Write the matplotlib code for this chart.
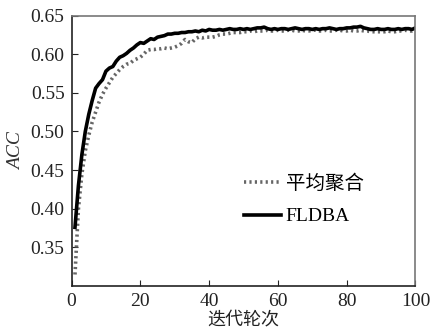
import matplotlib
matplotlib.use("Agg")
import matplotlib.pyplot as plt
import numpy as np

plt.rcParams['font.family'] = ['Liberation Serif', 'Noto Sans CJK SC']
plt.rcParams['mathtext.fontset'] = 'stix'

rounds = list(range(1, 101))

fldba = [0.376, 0.430, 0.470, 0.500, 0.522, 0.540, 0.556, 0.562, 0.567, 0.578,
         0.582, 0.584, 0.591, 0.596, 0.598, 0.601, 0.605, 0.608, 0.612, 0.615,
         0.614, 0.617, 0.620, 0.619, 0.622, 0.623, 0.624, 0.626, 0.626, 0.627,
         0.627, 0.628, 0.628, 0.629, 0.629, 0.630, 0.629, 0.631, 0.630, 0.632,
         0.631, 0.631, 0.632, 0.631, 0.632, 0.633, 0.632, 0.632, 0.633, 0.632,
         0.633, 0.632, 0.633, 0.634, 0.634, 0.635, 0.633, 0.632, 0.633, 0.632,
         0.633, 0.633, 0.632, 0.633, 0.634, 0.633, 0.632, 0.633, 0.633, 0.632,
         0.633, 0.632, 0.633, 0.633, 0.634, 0.633, 0.632, 0.633, 0.633, 0.634,
         0.634, 0.635, 0.635, 0.636, 0.634, 0.633, 0.632, 0.632, 0.633, 0.632,
         0.632, 0.633, 0.632, 0.632, 0.633, 0.632, 0.633, 0.633, 0.632, 0.634]

avg = [0.315, 0.400, 0.445, 0.475, 0.495, 0.512, 0.525, 0.538, 0.548, 0.556,
       0.563, 0.570, 0.575, 0.580, 0.584, 0.587, 0.588, 0.592, 0.594, 0.596,
       0.600, 0.605, 0.606, 0.606, 0.607, 0.607, 0.608, 0.607, 0.608, 0.609,
       0.611, 0.614, 0.619, 0.616, 0.615, 0.620, 0.622, 0.621, 0.622, 0.622,
       0.622, 0.623, 0.625, 0.626, 0.626, 0.627, 0.628, 0.628, 0.628, 0.629,
       0.629, 0.630, 0.629, 0.630, 0.630, 0.630, 0.631, 0.630, 0.630, 0.631,
       0.630, 0.630, 0.631, 0.631, 0.630, 0.630, 0.631, 0.630, 0.630, 0.631,
       0.631, 0.630, 0.630, 0.631, 0.630, 0.630, 0.631, 0.631, 0.630, 0.630,
       0.631, 0.630, 0.630, 0.631, 0.630, 0.630, 0.629, 0.629, 0.629, 0.629,
       0.629, 0.630, 0.629, 0.629, 0.630, 0.630, 0.631, 0.630, 0.630, 0.632]

labels = ['平均聚合', 'FLDBA']
xticks = [0, 20, 40, 60, 80, 100]
yticks = [0.35, 0.40, 0.45, 0.50, 0.55, 0.60, 0.65]

fig = plt.figure(figsize=(4.31, 3.30), dpi=100)
ax = fig.add_axes([0.166, 0.133, 0.798, 0.820])

ax.plot(rounds, avg, color='#666666', lw=2.6, ls=(0, (0.6, 0.9)), label=labels[0])
ax.plot(rounds, fldba, color='black', lw=2.6, label=labels[1])

ax.set_xlim(0, 100)
ax.set_ylim(0.30, 0.65)
ax.set_xticks(xticks)
ax.set_yticks(yticks)
ax.set_yticklabels([f'{v:.2f}' for v in yticks])
ax.tick_params(direction='in', length=4, labelsize=14, colors='#222222', pad=5)

for s in ['top', 'right']:
    ax.spines[s].set_color('#777777')
    ax.spines[s].set_linewidth(1.2)
for s in ['left', 'bottom']:
    ax.spines[s].set_color('#222222')
    ax.spines[s].set_linewidth(1.2)

ax.set_ylabel('ACC', fontsize=14, style='italic', color='#333333', labelpad=4)
ax.set_xlabel('迭代轮次', fontsize=13, color='#222222', labelpad=1)

ax.legend(loc='center left', bbox_to_anchor=(0.45, 0.318), frameon=False,
          fontsize=14, handlelength=1.9, handletextpad=0.25, labelspacing=0.75)

fig.savefig('out.png', dpi=100)
